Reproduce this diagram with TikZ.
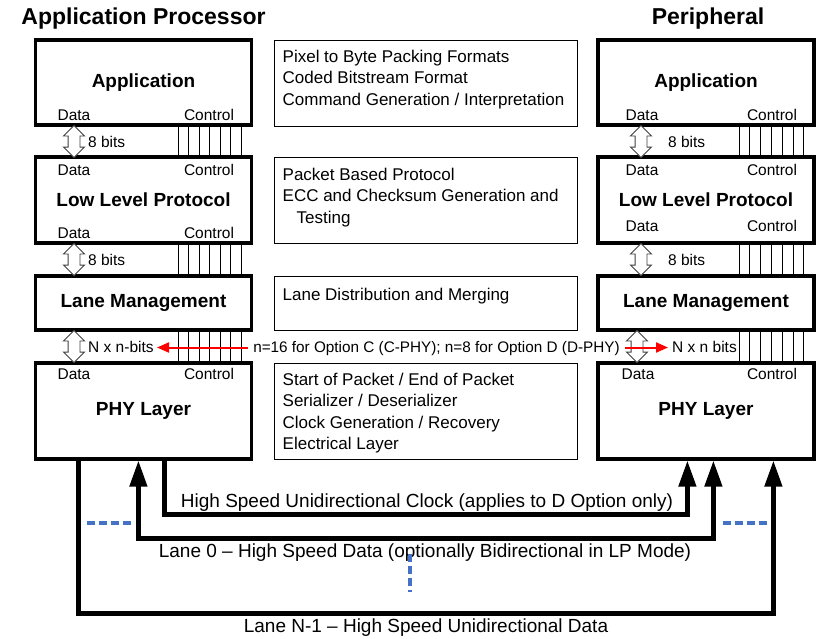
\documentclass[tikz,border=0pt]{standalone}
\usepackage{fontspec}
\setmainfont{Liberation Sans}
\usetikzlibrary{arrows.meta,shapes.arrows}
\definecolor{laneblue}{HTML}{4472C4}

\begin{document}
\begin{tikzpicture}[x=1pt,y=-1pt,
    layer/.style={draw,line width=3.2pt,minimum width=216pt,inner sep=0pt,
                  font=\bfseries\fontsize{19}{22}\selectfont},
    note/.style={draw,line width=1pt,minimum width=303pt},
    notetext/.style={anchor=north west,inner sep=0pt,align=left,
                     font=\fontsize{17}{21.5}\selectfont},
    port/.style={anchor=base,inner sep=0pt,font=\fontsize{15.5}{18}\selectfont},
    buswidth/.style={anchor=west,inner sep=0pt,font=\fontsize{15.5}{18}\selectfont},
    bus/.style={double arrow,draw=black!75,fill=white,line width=0.9pt,rotate=90,
                minimum height=32pt,inner sep=5.5pt,double arrow head extend=4.5pt},
    ctl/.style={line width=0.9pt},
    redarr/.style={red,line width=2pt,-{Triangle[length=12pt,width=10pt]}},
    wire/.style={line width=4.5pt,>={Triangle[length=26pt,width=17pt]}},
    lanelbl/.style={anchor=base,font=\fontsize{19}{22}\selectfont},
    gapdash/.style={laneblue,line width=4pt,dash pattern=on 8pt off 4pt},
    headline/.style={anchor=base,font=\bfseries\fontsize{23}{26}\selectfont}]

  \useasboundingbox (0,0) rectangle (831,638);

  \node[headline] (tA) at (143.5,24) {Application Processor};
  \node[headline] (tB) at (708,24)   {Peripheral};

  % application processor side
  \node[layer,minimum height=85pt] (appA) at (143.5,82.5) {Application};
  \node[layer,minimum height=86pt] (llpA) at (143.5,200)  {Low Level Protocol};
  \node[layer,minimum height=54pt] (lmA)  at (143.5,303)  {Lane Management};
  \node[layer,minimum height=96pt] (phyA) at (143.5,411)  {PHY Layer};

  % peripheral side
  \node[layer,minimum height=85pt] (appB) at (706,82.5) {Application};
  \node[layer,minimum height=86pt] (llpB) at (706,200)  {Low Level Protocol};
  \node[layer,minimum height=54pt] (lmB)  at (706,303)  {Lane Management};
  \node[layer,minimum height=96pt] (phyB) at (706,411)  {PHY Layer};

  % descriptions
  \node[note,minimum height=86pt] (n1) at (425.5,83)  {};
  \node[note,minimum height=86pt] (n2) at (425.5,200) {};
  \node[note,minimum height=54pt] (n3) at (425.5,303) {};
  \node[note,minimum height=96pt] (n4) at (425.5,411) {};
  \node[notetext] (t1) at ([xshift=9pt,yshift=-10pt]n1.north west)
    {Pixel to Byte Packing Formats\\Coded Bitstream Format\\Command Generation / Interpretation};
  \node[notetext] (t2) at ([xshift=9pt,yshift=-11pt]n2.north west)
    {Packet Based Protocol\\ECC and Checksum Generation and\\\hspace*{14pt}Testing};
  \node[notetext] (t3) at ([xshift=9pt,yshift=-12pt]n3.north west)
    {Lane Distribution and Merging};
  \node[notetext] (t4) at ([xshift=9pt,yshift=-10pt]n4.north west)
    {Start of Packet / End of Packet\\Serializer / Deserializer\\Clock Generation / Recovery\\Electrical Layer};

  % data / control ports
  \node[port] (dA1) at (74,120)  {Data};
  \node[port] (cA1) at (209,120) {Control};
  \node[port] (dA2) at (74,175)  {Data};
  \node[port] (cA2) at (209,175) {Control};
  \node[port] (dA3) at (74,238)  {Data};
  \node[port] (cA3) at (209,238) {Control};
  \node[port] (dA4) at (74,379)  {Data};
  \node[port] (cA4) at (209,379) {Control};
  \node[port] (dB1) at (642,120) {Data};
  \node[port] (cB1) at (772,120) {Control};
  \node[port] (dB2) at (642,175) {Data};
  \node[port] (cB2) at (772,175) {Control};
  \node[port] (dB3) at (642,231) {Data};
  \node[port] (cB3) at (772,231) {Control};
  \node[port] (dB4) at (638,379) {Data};
  \node[port] (cB4) at (772,379) {Control};

  % data buses
  \node[bus] (bA1) at (74,141.5)  {};
  \node[bus] (bA2) at (74,259.5)  {};
  \node[bus] (bA3) at (74,346.5)  {};
  \node[bus] (bB1) at (641,141.5) {};
  \node[bus] (bB2) at (641,259.5) {};
  \node[bus] (bB3) at (637,346.5) {};
  \node[buswidth] (wA1) at (88,141.5)  {8 bits};
  \node[buswidth] (wA2) at (88,259.5)  {8 bits};
  \node[buswidth] (wA3) at (88,347)    {N x n-bits};
  \node[buswidth] (wB1) at (668,141.5) {8 bits};
  \node[buswidth] (wB2) at (668,259.5) {8 bits};
  \node[buswidth] (wB3) at (672,347)   {N x n bits};

  % control lines
  \foreach \i in {0,...,6} {
    \draw[ctl] (appA.south -| {178+10.5*\i},0) -- (llpA.north -| {178+10.5*\i},0);
    \draw[ctl] (llpA.south -| {178+10.5*\i},0) -- (lmA.north -| {178+10.5*\i},0);
    \draw[ctl] (lmA.south -| {178+10.5*\i},0)  -- (phyA.north -| {178+10.5*\i},0);
    \draw[ctl] (appB.south -| {739+10.8*\i},0) -- (llpB.north -| {739+10.8*\i},0);
    \draw[ctl] (llpB.south -| {739+10.8*\i},0) -- (lmB.north -| {739+10.8*\i},0);
    \draw[ctl] (lmB.south -| {739+10.8*\i},0)  -- (phyB.north -| {739+10.8*\i},0);
  }

  % lane width note
  \node[anchor=base,inner sep=5pt,font=\fontsize{15.3}{18}\selectfont] (opt) at (436.5,352)
    {n=16 for Option C (C-PHY); n=8 for Option D (D-PHY)};
  \coordinate (rA) at (157,347.5);
  \coordinate (rB) at (668,347.5);
  \draw[redarr] (opt.west |- rA) -- (rA);
  \draw[redarr] (opt.east |- rB) -- (rB);

  % lanes
  \node[lanelbl] (clk) at (427,507) {High Speed Unidirectional Clock (applies to D Option only)};
  \node[lanelbl] (l0)  at (425,557) {Lane 0 -- High Speed Data (optionally Bidirectional in LP Mode)};
  \node[lanelbl] (ln)  at (426,632) {Lane N-1 -- High Speed Unidirectional Data};

  \draw[wire,->]  ([xshift=130.5pt]phyA.south west) -- ++(0,54)  -| ([xshift=91pt]phyB.south west);
  \draw[wire,<->] ([xshift=104.5pt]phyA.south west) -- ++(0,78)  -| ([xshift=117pt]phyB.south west);
  \draw[wire,->]  ([xshift=44.5pt]phyA.south west)  -- ++(0,153) -| ([xshift=177pt]phyB.south west);

  \draw[gapdash] (87,523) -- (133,523);
  \draw[gapdash] (723,523) -- (768,523);
  \draw[gapdash] (410,554) -- (410,592);
\end{tikzpicture}
\end{document}
